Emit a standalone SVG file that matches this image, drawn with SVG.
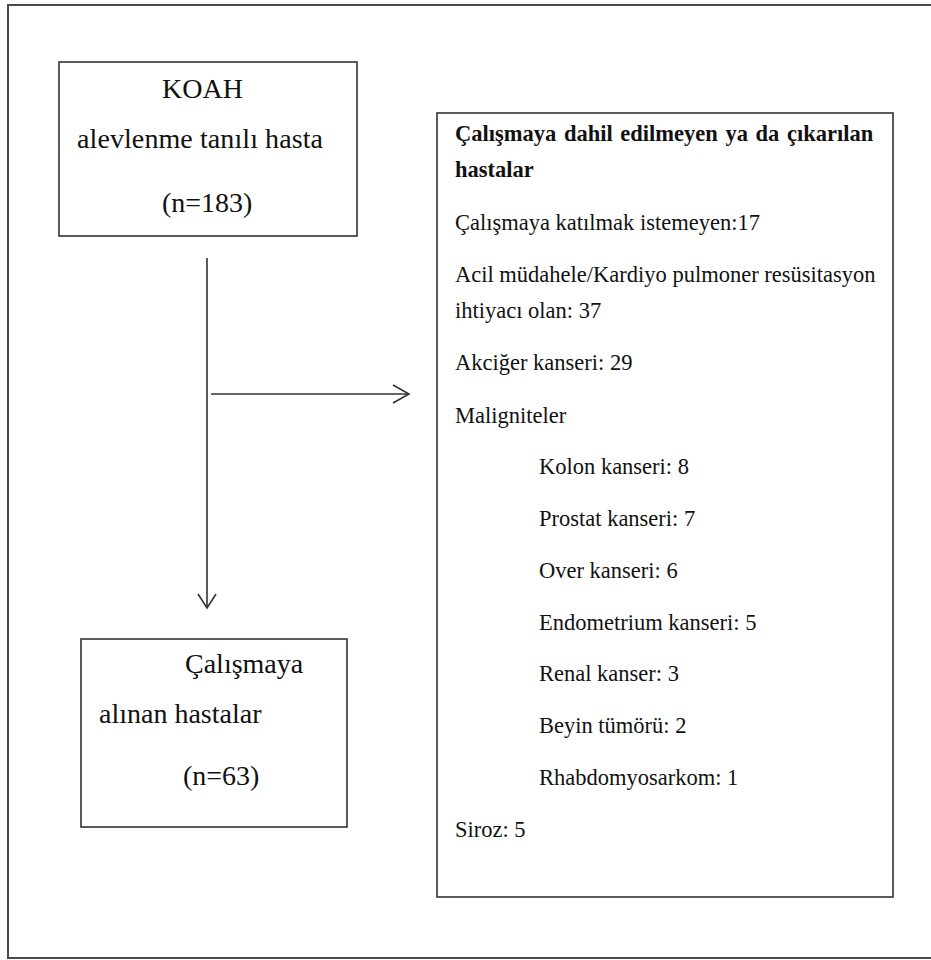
<svg xmlns="http://www.w3.org/2000/svg" width="931" height="960" viewBox="0 0 931 960">
<style>
.frame{fill:none;stroke:#4a4a4a;stroke-width:2}
.box{fill:#fff;stroke:#333;stroke-width:1.6}
text{font-family:'Liberation Serif','Times New Roman',Tinos,'Noto Serif','DejaVu Serif',serif;fill:#111}
.big{font-size:28px}
.sm{font-size:22.5px}
.b{font-weight:bold}
.conn{fill:none;stroke:#333;stroke-width:1.6}
</style>
<rect width="931" height="960" fill="#fff"/>
<path class="frame" d="M932,5 H8 V958 H932"/>
<g id="koah">
<rect class="box" x="59" y="62" width="298" height="174"/>
<text class="big" x="162" y="98">KOAH</text>
<text class="big" x="77" y="148" textLength="246" lengthAdjust="spacing">alevlenme tanılı hasta</text>
<text class="big" x="162" y="212">(n=183)</text>
</g>
<g id="included">
<rect class="box" x="81" y="639" width="266" height="188"/>
<text class="big" x="185" y="673">Çalışmaya</text>
<text class="big" x="99" y="723">alınan hastalar</text>
<text class="big" x="183" y="785">(n=63)</text>
</g>
<g id="excluded">
<rect class="box" x="437" y="113" width="456" height="784"/>
<text class="sm b" x="455" y="141" word-spacing="2">Çalışmaya dahil edilmeyen ya da çıkarılan</text>
<text class="sm b" x="455" y="177">hastalar</text>
<text class="sm" x="455" y="230">Çalışmaya katılmak istemeyen:17</text>
<text class="sm" x="455" y="282">Acil müdahele/Kardiyo pulmoner resüsitasyon</text>
<text class="sm" x="455" y="318">ihtiyacı olan: 37</text>
<text class="sm" x="455" y="370">Akciğer kanseri: 29</text>
<text class="sm" x="455" y="423">Maligniteler</text>
<text class="sm" x="539" y="474">Kolon kanseri: 8</text>
<text class="sm" x="539" y="526">Prostat kanseri: 7</text>
<text class="sm" x="539" y="578">Over kanseri: 6</text>
<text class="sm" x="539" y="630">Endometrium kanseri: 5</text>
<text class="sm" x="539" y="681">Renal kanser: 3</text>
<text class="sm" x="539" y="733">Beyin tümörü: 2</text>
<text class="sm" x="539" y="785">Rhabdomyosarkom: 1</text>
<text class="sm" x="455" y="837">Siroz: 5</text>
</g>
<g id="connectors">
<path class="conn" d="M207,258 V608"/>
<path class="conn" d="M198,594 L207,608 L216,594"/>
<path class="conn" d="M211,394 H409"/>
<path class="conn" d="M393,385 L409,394 L393,403"/>
</g>
</svg>
